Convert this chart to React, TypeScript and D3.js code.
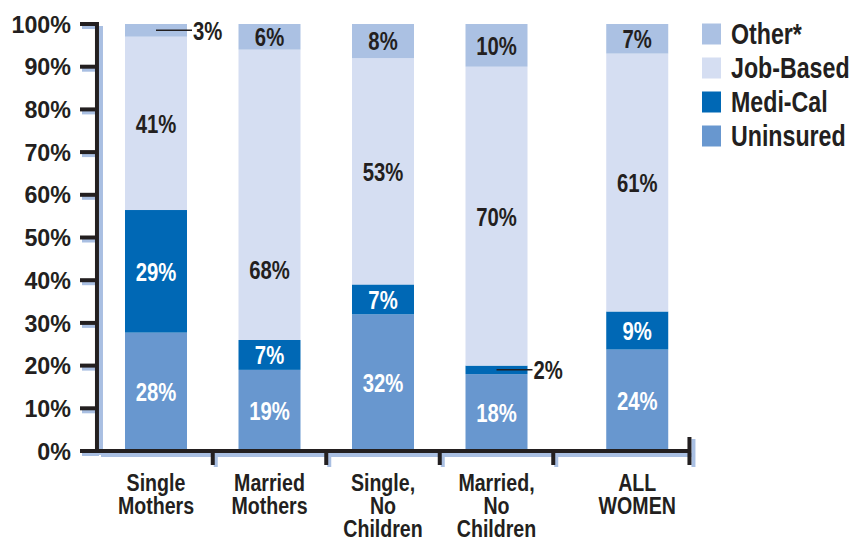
import React from "react";
import * as d3 from "d3";

// categories (bottom labels split into lines)
const categories = ["Single Mothers", "Married Mothers", "Single, No Children", "Married, No Children", "ALL WOMEN"];
const categoryLines = [
  ["Single", "Mothers"],
  ["Married", "Mothers"],
  ["Single,", "No", "Children"],
  ["Married,", "No", "Children"],
  ["ALL", "WOMEN"],
];

// series, bottom to top (percent)
const seriesNames = ["Uninsured", "Medi-Cal", "Job-Based", "Other*"];
const uninsured = [28, 19, 32, 18, 24];
const mediCal = [29, 7, 7, 2, 9];
const jobBased = [41, 68, 53, 70, 61];
const other = [3, 6, 8, 10, 7];

const yTicks = [0, 10, 20, 30, 40, 50, 60, 70, 80, 90, 100];
const legendOrder = ["Other*", "Job-Based", "Medi-Cal", "Uninsured"];

const colors: Record<string, string> = {
  Uninsured: "#6897cf",
  "Medi-Cal": "#0068b5",
  "Job-Based": "#d5def2",
  "Other*": "#abc1e3",
};
const labelColor: Record<string, string> = {
  Uninsured: "#ffffff",
  "Medi-Cal": "#ffffff",
  "Job-Based": "#231f20",
  "Other*": "#231f20",
};

const FONT = "'Liberation Sans', Arial, Helvetica, sans-serif";
const INK = "#231f20";
const SHADOW = "#a9bfe2";

// bold text squeezed horizontally to look like a condensed face
const Narrow = ({ x, y, size, fill = INK, anchor = "start", sx = 0.8, children }: any) => (
  <text
    transform={`translate(${x},${y}) scale(${sx},1)`}
    dy="0.36em"
    textAnchor={anchor}
    fontFamily={FONT}
    fontWeight="bold"
    fontSize={size}
    fill={fill}
  >
    {children}
  </text>
);

export default function App() {
  const width = 866;
  const height = 540;

  const rows = categories.map((c, i) => ({
    category: c,
    Uninsured: uninsured[i],
    "Medi-Cal": mediCal[i],
    "Job-Based": jobBased[i],
    "Other*": other[i],
  }));
  const stacked = d3.stack<any>().keys(seriesNames).offset(d3.stackOffsetExpand)(rows);

  // ALL WOMEN sits a bit further right than the other groups
  const slot = (i: number) => i + (i === 4 ? 0.24 : 0);
  const x = d3.scaleLinear().domain([0, 4]).range([156, 610]);
  const y = d3.scaleLinear().domain([0, 1]).range([451, 24]);
  const barW = 62;

  const axisX = x(-0.52);
  const axisEnd = x(4.7);
  const axisY = y(0);
  const groupTicks = [0.5, 1.5, 2.5, 3.5].map((v) => x(v));

  // job-based label in Married Mothers sits lower in the original
  const labelShift = (key: string, i: number) => (key === "Job-Based" && i === 1 ? 75 : 0);

  return (
    <svg width={width} height={height} style={{ position: "absolute", left: 0, top: 0, background: "#fff" }}>
      {/* bars */}
      {stacked.map((s) => (
        <g key={s.key} fill={colors[s.key]}>
          {s.map((d, i) => (
            <rect
              key={i}
              x={x(slot(i)) - barW / 2}
              y={y(d[1])}
              width={barW}
              height={y(d[0]) - y(d[1])}
            />
          ))}
        </g>
      ))}

      {/* segment labels */}
      {stacked.map((s) =>
        s.map((d, i) => {
          const v = (d.data as any)[s.key] as number;
          const cx = x(slot(i));
          const cy = (y(d[0]) + y(d[1])) / 2;
          if (v < 5) {
            return (
              <g key={s.key + i}>
                <line x1={cx} x2={cx + 36} y1={cy} y2={cy} stroke={INK} strokeWidth={1.5} />
                <Narrow x={cx + 37} y={cy} size={26} sx={0.78}>
                  {v}%
                </Narrow>
              </g>
            );
          }
          return (
            <Narrow
              key={s.key + i}
              x={cx}
              y={cy + labelShift(s.key, i)}
              size={26}
              sx={0.78}
              anchor="middle"
              fill={labelColor[s.key]}
            >
              {v}%
            </Narrow>
          );
        })
      )}

      {/* axis shadows */}
      <g stroke={SHADOW} strokeWidth={4}>
        <line x1={axisX + 4} x2={axisX + 4} y1={y(1) + 2} y2={axisY + 4} />
        <line x1={axisX + 4} x2={axisEnd + 4} y1={axisY + 4} y2={axisY + 4} />
        {yTicks.map((t) => (
          <line key={t} x1={axisX - 15} x2={axisX + 2} y1={y(t / 100) + 3} y2={y(t / 100) + 3} />
        ))}
        {groupTicks.map((gx, k) => (
          <line key={k} x1={gx + 3} x2={gx + 3} y1={axisY + 2} y2={axisY + 16} />
        ))}
        <line x1={axisEnd + 4} x2={axisEnd + 4} y1={axisY - 12} y2={axisY + 16} />
      </g>

      {/* axes */}
      <g stroke={INK} strokeWidth={4}>
        <line x1={axisX} x2={axisX} y1={y(1) - 2} y2={axisY + 2} />
        <line x1={axisX - 2} x2={axisEnd} y1={axisY} y2={axisY} />
        {yTicks.map((t) => (
          <line key={t} x1={axisX - 17} x2={axisX} y1={y(t / 100)} y2={y(t / 100)} />
        ))}
        {groupTicks.map((gx, k) => (
          <line key={k} x1={gx} x2={gx} y1={axisY} y2={axisY + 14} />
        ))}
        <line x1={axisEnd} x2={axisEnd} y1={axisY - 14} y2={axisY + 14} />
      </g>

      {/* y tick labels */}
      {yTicks.map((t) => (
        <Narrow key={t} x={axisX - 26} y={y(t / 100)} size={24} sx={0.97} anchor="end">
          {t}%
        </Narrow>
      ))}

      {/* category labels */}
      {categoryLines.map((lines, i) =>
        lines.map((l, k) => (
          <Narrow key={i + "-" + k} x={x(slot(i))} y={482 + k * 23} size={24.5} sx={0.8} anchor="middle">
            {l}
          </Narrow>
        ))
      )}

      {/* legend */}
      {legendOrder.map((name, k) => (
        <g key={name} transform={`translate(702,${34 + k * 34})`}>
          <rect x={0} y={-10.5} width={19} height={21} fill={colors[name]} />
          <Narrow x={29} y={0} size={29} sx={0.8}>
            {name}
          </Narrow>
        </g>
      ))}
    </svg>
  );
}
